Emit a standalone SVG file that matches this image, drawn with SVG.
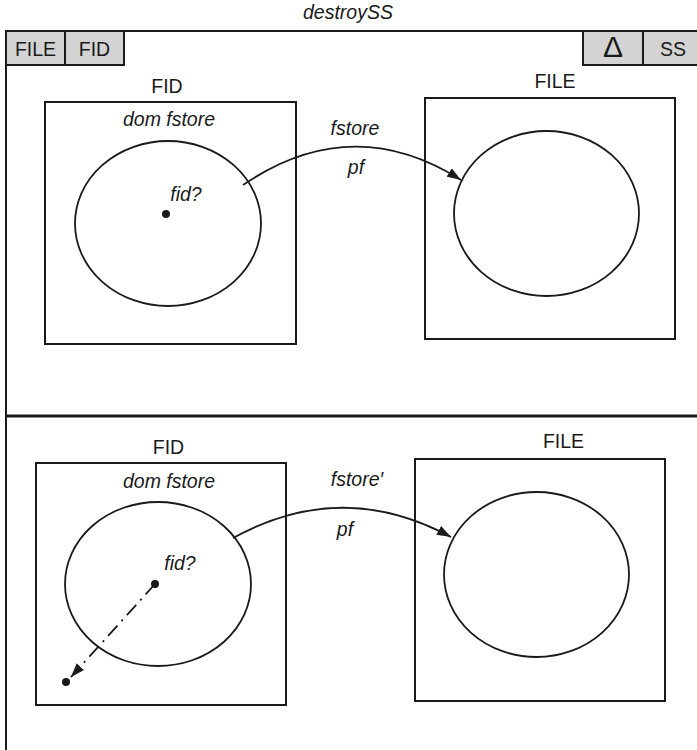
<svg xmlns="http://www.w3.org/2000/svg" width="697" height="750" viewBox="0 0 697 750">
  <style>
    .frame { fill: none; stroke: #1a1a1a; stroke-width: 2; }
    .tab { fill: #d3d3d3; stroke: #1a1a1a; stroke-width: 2; }
    .box { fill: #ffffff; stroke: #1a1a1a; stroke-width: 2; }
    .set { fill: none; stroke: #1a1a1a; stroke-width: 1.8; }
    .edge { fill: none; stroke: #1a1a1a; stroke-width: 1.8; }
    .dashdot { fill: none; stroke: #1a1a1a; stroke-width: 1.8; stroke-dasharray: 14 6 2 6; }
    .dot { fill: #1a1a1a; }
    text { font-family: "Liberation Sans", Arial, sans-serif; font-size: 19.5px; fill: #1a1a1a; text-anchor: middle; }
    .it { font-style: italic; }
  </style>
  <defs>
    <marker id="arrow" viewBox="0 0 14 10" refX="14" refY="5" markerWidth="14" markerHeight="10" markerUnits="userSpaceOnUse" orient="auto">
      <path d="M0,0 L14,5 L0,10 Z" fill="#1a1a1a"/>
    </marker>
  </defs>

  <!-- schema title and frame -->
  <text class="it" x="348" y="19">destroySS</text>
  <g id="frame">
    <path class="frame" d="M6,750 V31 H697"/>
    <line x1="6" y1="416" x2="697" y2="416" stroke="#1a1a1a" stroke-width="3"/>
  </g>

  <!-- header tabs -->
  <g id="tab-file">
    <rect class="tab" x="6" y="31" width="59" height="34"/>
    <text x="35.5" y="55.5">FILE</text>
  </g>
  <g id="tab-fid">
    <rect class="tab" x="65" y="31" width="59" height="34"/>
    <text x="94.5" y="55.5">FID</text>
  </g>
  <g id="tab-delta">
    <rect class="tab" x="583" y="31" width="60" height="34"/>
    <text x="613" y="57" style="font-size:30px">Δ</text>
  </g>
  <g id="tab-ss">
    <rect class="tab" x="643" y="31" width="56" height="34"/>
    <text x="673" y="55.5">SS</text>
  </g>

  <!-- before state -->
  <g id="fid-before">
    <text x="167" y="93">FID</text>
    <rect class="box" x="45" y="102" width="251" height="242"/>
    <text class="it" x="169" y="126">dom fstore</text>
    <ellipse class="set" cx="168" cy="223.5" rx="93" ry="82.5"/>
    <text class="it" x="186" y="201">fid?</text>
    <circle class="dot" cx="166" cy="214" r="4"/>
  </g>
  <g id="file-before">
    <text x="555" y="88">FILE</text>
    <rect class="box" x="425" y="98" width="250" height="241"/>
    <ellipse class="set" cx="546.5" cy="213.5" rx="92.5" ry="82.5"/>
  </g>

  <!-- after state -->
  <g id="fid-after">
    <text x="168.5" y="454">FID</text>
    <rect class="box" x="36" y="463" width="250" height="242"/>
    <text class="it" x="169" y="488">dom fstore</text>
    <ellipse class="set" cx="158" cy="584" rx="93" ry="82"/>
    <text class="it" x="180" y="570">fid?</text>
    <circle class="dot" cx="155" cy="584" r="4"/>
    <circle class="dot" cx="66" cy="682" r="4"/>
  </g>
  <g id="file-after">
    <text x="563.5" y="448">FILE</text>
    <rect class="box" x="415" y="459" width="250" height="242"/>
    <ellipse class="set" cx="536.5" cy="574.5" rx="92.5" ry="82.5"/>
  </g>

  <!-- connectors -->
  <g id="connectors">
    <path class="edge" d="M243,185 Q352,111 461,180" marker-end="url(#arrow)"/>
    <text class="it" x="355" y="135">fstore</text>
    <text class="it" x="356" y="174">pf</text>

    <path class="edge" d="M233,538 Q342,478 451,537" marker-end="url(#arrow)"/>
    <text class="it" x="357" y="486">fstore′</text>
    <text class="it" x="345" y="536">pf</text>

    <path class="dashdot" d="M155,584 L71,677" marker-end="url(#arrow)"/>
  </g>
</svg>
